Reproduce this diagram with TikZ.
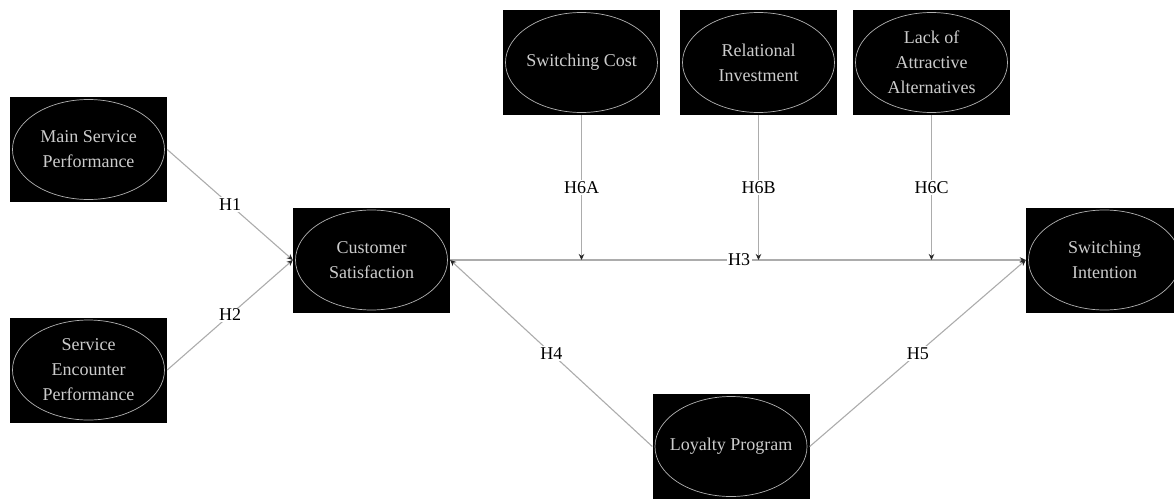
\documentclass[tikz,border=0pt]{standalone}
\usepackage{fontspec}
\setmainfont{Liberation Serif}
\usetikzlibrary{arrows.meta}

\begin{document}
\begin{tikzpicture}[
    x=1pt, y=-1pt,
    construct/.style={rectangle, fill=black, inner sep=0pt, minimum width=157pt, minimum height=105pt, align=center, text=gray!40, font=\fontsize{18}{25}\selectfont,
        path picture={\draw[gray!60, line width=0.7pt] (path picture bounding box.center) ellipse (76pt and 50pt);}},
    link/.style={-{Stealth[length=6pt, width=5.5pt, color=gray!30!black]}, draw=gray!65, line width=1.1pt},
    hyp/.style={fill=white, inner sep=1.5pt, text=black, font=\fontsize{18}{20}\selectfont}
]
    \useasboundingbox (0,0) rectangle (1174,498);

    % Antecedents
    \node[construct] (main) at (88.5,149.5) {Main Service\\Performance};
    \node[construct] (enc) at (88.5,370) {Service\\Encounter\\Performance};

    % Satisfaction and outcome
    \node[construct] (cs) at (371.5,260) {Customer\\Satisfaction};
    \node[construct] (si) at (1104.5,260) {Switching\\Intention};
    \node[construct] (lp) at (731,446.5) {Loyalty Program};

    % Moderators
    \node[construct] (sc) at (581.5,62.5) {Switching Cost};
    \node[construct] (ri) at (758.5,62.5) {Relational\\Investment};
    \node[construct] (laa) at (931.5,62.5) {Lack of\\Attractive\\Alternatives};

    % Points where the moderators meet H3
    \coordinate (m6a) at (sc.south |- cs.east);
    \coordinate (m6b) at (ri.south |- cs.east);
    \coordinate (m6c) at (laa.south |- cs.east);

    % Arrows
    \draw[link] (main.east) -- node[hyp] (h1) {H1} (cs.west);
    \draw[link] (enc.east) -- node[hyp] (h2) {H2} (cs.west);
    \draw[link] (cs.east) -- node[hyp, pos=0.502] (h3) {H3} (si.west);
    \draw[link] (lp.west) -- node[hyp] (h4) {H4} (cs.east);
    \draw[link] (lp.east) -- node[hyp] (h5) {H5} (si.west);

    % Moderating effects
    \draw[link] (sc.south) -- node[hyp] (h6a) {H6A} (m6a);
    \draw[link] (ri.south) -- node[hyp] (h6b) {H6B} (m6b);
    \draw[link] (laa.south) -- node[hyp] (h6c) {H6C} (m6c);

\end{tikzpicture}
\end{document}
